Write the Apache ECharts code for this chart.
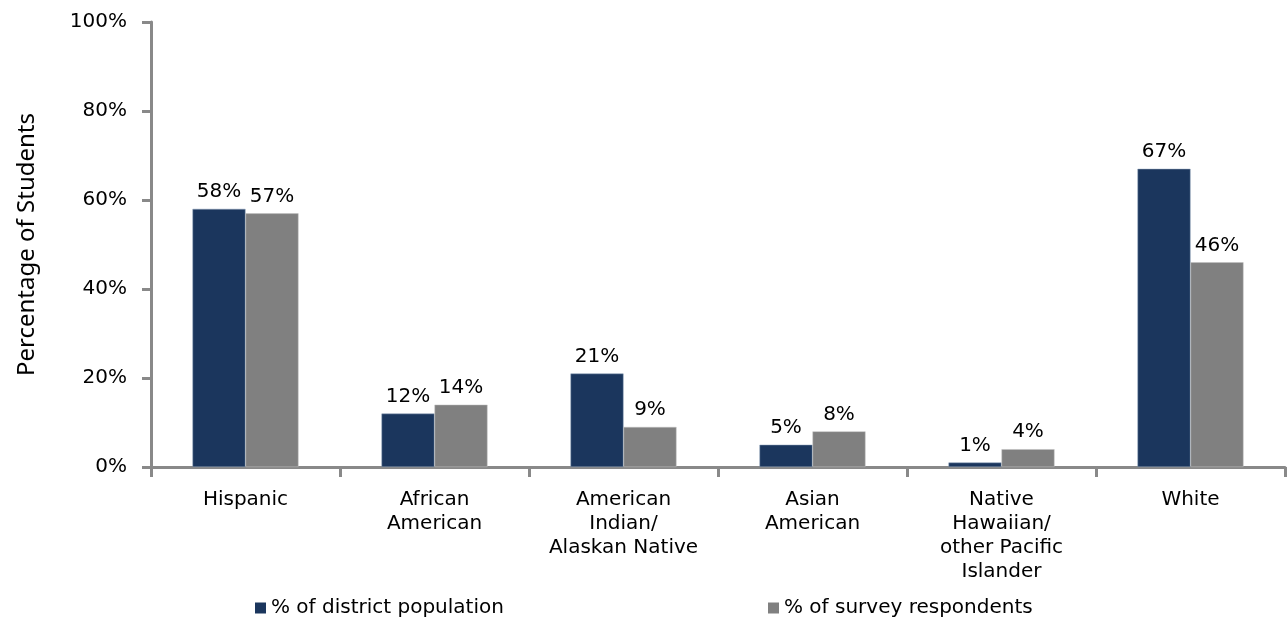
<!DOCTYPE html>
<html>
<head>
<meta charset="utf-8">
<script src="https://cdn.jsdelivr.net/npm/echarts@6/dist/echarts.min.js"></script>
<style>html,body{margin:0;padding:0;background:#fff;}#c{width:1288px;height:619px;}</style>
</head>
<body>
<div id="c"></div>
<script>
const categories = ['Hispanic', 'African\nAmerican', 'American\nIndian/\nAlaskan Native', 'Asian\nAmerican', 'Native\nHawaiian/\nother Pacific\nIslander', 'White'];
const districtPopulation = [58, 12, 21, 5, 1, 67];
const surveyRespondents = [57, 14, 9, 8, 4, 46];
const seriesNames = ['% of district population', '% of survey respondents'];
const yTicks = [0, 20, 40, 60, 80, 100];

const FONT = 'DejaVu Sans';
const chart = echarts.init(document.getElementById('c'), null, {renderer: 'canvas'});
const labelCfg = {show: true, position: 'top', distance: 7, formatter: p => p.value + '%', color: '#000', fontFamily: FONT, fontSize: 20};
const legendBase = {icon: 'rect', itemWidth: 11, itemHeight: 11, top: 593,
  itemStyle: {borderWidth: 0}, textStyle: {fontFamily: FONT, fontSize: 20, color: '#000'}};
chart.setOption({
  animation: false,
  textStyle: {fontFamily: FONT},
  grid: {left: 151, right: 3, top: 22, bottom: 152, containLabel: false},
  legend: [
    Object.assign({data: [seriesNames[0]], left: 250}, legendBase),
    Object.assign({data: [seriesNames[1]], left: 763}, legendBase)
  ],
  xAxis: {
    type: 'category', data: categories,
    axisLine: {lineStyle: {color: '#898989', width: 3}},
    axisTick: {show: true, alignWithLabel: false, length: 10, lineStyle: {color: '#898989', width: 3}},
    axisLabel: {color: '#000', fontFamily: FONT, fontSize: 20, lineHeight: 24, margin: 21, interval: 0}
  },
  yAxis: {
    type: 'value', min: yTicks[0], max: yTicks[yTicks.length-1], interval: 20,
    name: 'Percentage of Students', nameLocation: 'middle', nameGap: 112,
    nameTextStyle: {color: '#000', fontFamily: 'Noto Sans', fontSize: 24},
    axisLine: {show: true, lineStyle: {color: '#898989', width: 3}},
    axisTick: {show: true, length: 9, lineStyle: {color: '#898989', width: 3}},
    splitLine: {show: false},
    axisLabel: {formatter: '{value}%', color: '#000', fontFamily: FONT, fontSize: 20, margin: 24}
  },
  series: [
    {name: seriesNames[0], type: 'bar', data: districtPopulation, barWidth: 53, barGap: '0%',
     itemStyle: {color: '#1b365d', borderColor: '#8ea0b8', borderWidth: 0.5}, label: labelCfg},
    {name: seriesNames[1], type: 'bar', data: surveyRespondents, barWidth: 53, barGap: '0%',
     itemStyle: {color: '#808080', borderColor: '#c0c0c0', borderWidth: 0.5}, label: labelCfg}
  ]
});
</script>
</body>
</html>
